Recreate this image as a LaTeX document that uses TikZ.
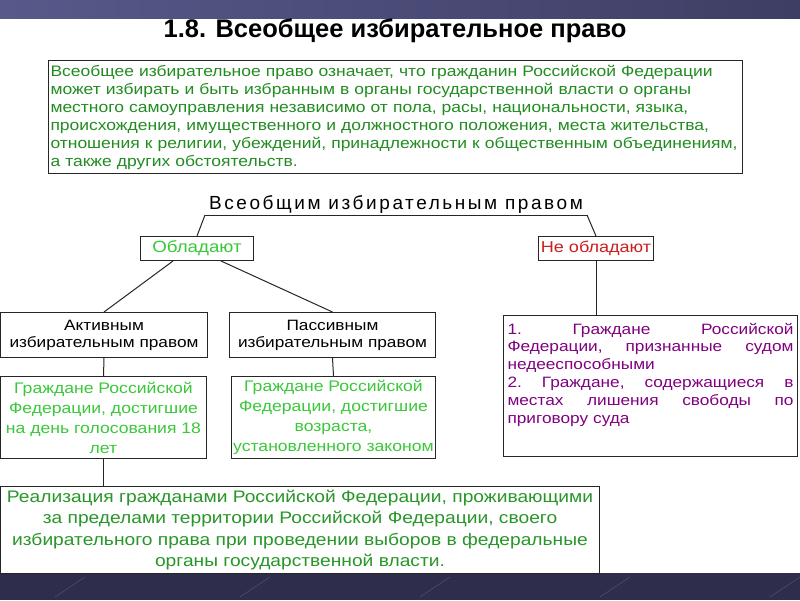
\documentclass[tikz,border=0pt]{standalone}
\usepackage{fontspec}
\setmainfont{Liberation Sans}
\newfontfamily\wide[FakeStretch=1.15]{Liberation Sans}
\newfontfamily\spread[LetterSpace=13.5]{Liberation Sans}
\usepackage{tikz}

\definecolor{bandtop}{RGB}{88,88,138}
\definecolor{bandtopr}{RGB}{62,62,100}
\definecolor{bandbot}{RGB}{46,46,76}
\definecolor{defgreen}{RGB}{34,140,34}
\definecolor{litegreen}{RGB}{58,200,58}
\definecolor{midgreen}{RGB}{40,150,40}
\definecolor{nored}{RGB}{205,30,30}
\definecolor{viol}{RGB}{128,0,128}

\tikzset{
  box/.style={draw=black!85, line width=1pt, inner sep=0pt, anchor=north west},
  wire/.style={draw=black!85, line width=1pt},
}

\begin{document}
\begin{tikzpicture}[x=1pt, y=-1pt]
	% Slide background:
	\useasboundingbox (0,0) rectangle (800,600);
	\fill[white] (0,0) rectangle (800,600);
	\shade[left color=bandtop, right color=bandtopr] (0,0) rectangle (800,18);
	\fill[bandbot] (0,573) rectangle (800,600);
	\foreach \x in {55,240,420,600,770}
		\draw[white, opacity=0.15, line width=0.6pt] (\x,597) -- (\x+30,577);

	% Title and definition:
	\node[font=\bfseries\fontsize{25.5}{28}\selectfont] (title) at (395,31) {1.8. Всеобщее избирательное право};
	\node[box, minimum width=694, minimum height=113, text width=690pt, align=left, text=defgreen,
		font=\wide\fontsize{15.2}{18}\selectfont] (def) at (48,60)
		{Всеобщее избирательное право означает, что гражданин Российской Федерации\\
		может избирать и быть избранным в органы государственной власти о органы\\
		местного самоуправления независимо от пола, расы, национальности, языка,\\
		происхождения, имущественного и должностного положения, места жительства,\\
		отношения к религии, убеждений, принадлежности к общественным объединениям,\\
		а также других обстоятельств.};

	% Tree:
	\node[font=\spread\fontsize{19}{22}\selectfont, inner sep=1pt] (head) at (396,204) {Всеобщим избирательным правом};
	\coordinate (ulL) at (205,215);
	\coordinate (ulR) at (587,215);
	\node[box, minimum width=113, minimum height=24, text=litegreen, font=\wide\fontsize{16.3}{18}\selectfont] (own) at (140,236) {Обладают};
	\node[box, minimum width=115, minimum height=24, text=nored, font=\wide\fontsize{15.7}{18}\selectfont] (notown) at (538,236) {Не обладают};
	\node[box, minimum width=207, minimum height=45, align=center, font=\wide\fontsize{15}{17}\selectfont] (act) at (0,312) {Активным\\избирательным правом};
	\node[box, minimum width=206, minimum height=45, align=center, font=\wide\fontsize{15}{17}\selectfont] (pas) at (229,312) {Пассивным\\избирательным правом};
	\node[box, minimum width=206, minimum height=82, align=center, text=litegreen, font=\wide\fontsize{15.3}{20}\selectfont] (actcit) at (0,376)
		{Граждане Российской\\Федерации, достигшие\\на день голосования 18\\лет};
	\node[box, minimum width=204, minimum height=82, align=center, text=litegreen, font=\wide\fontsize{15.3}{20}\selectfont] (pascit) at (231,376)
		{Граждане Российской\\Федерации, достигшие\\возраста,\\установленного законом};
	\node[box, minimum width=294, minimum height=141, text width=286pt, align=left, text=viol,
		font=\wide\fontsize{15}{17.8}\selectfont] (incap) at (503,315)
		{\makebox[286pt][l]{1.\hfill Граждане\hfill Российской}\\
		\makebox[286pt][l]{Федерации,\hfill признанные\hfill судом}\\
		недееспособными\\
		\makebox[286pt][l]{2.\hfill Граждане,\hfill содержащиеся\hfill в}\\
		\makebox[286pt][l]{местах\hfill лишения\hfill свободы\hfill по}\\
		приговору суда\\
		\rule{0pt}{22pt}};
	\node[box, minimum width=599, minimum height=87, align=center, text=midgreen, font=\wide\fontsize{16.7}{21.5}\selectfont] (abroad) at (0,486)
		{Реализация гражданами Российской Федерации, проживающими\\
		за пределами территории Российской Федерации, своего\\
		избирательного права при проведении выборов в федеральные\\
		органы государственной власти.};

	% Wires:
	\draw[wire] (ulL) -- (ulR);
	\draw[wire] (ulL) -- (own.north);
	\draw[wire] (ulR) -- (notown.north);
	\draw[wire] ([xshift=-24pt]own.south) -- (act.north);
	\draw[wire] ([xshift=24pt]own.south) -- (pas.north);
	\draw[wire] (act.south) -- (actcit.north);
	\draw[wire] (pas.south) -- (pascit.north);
	\draw[wire] (actcit.south) -- (actcit.south |- abroad.north);
	\draw[wire] (notown.south) -- (notown.south |- incap.north);
\end{tikzpicture}
\end{document}
